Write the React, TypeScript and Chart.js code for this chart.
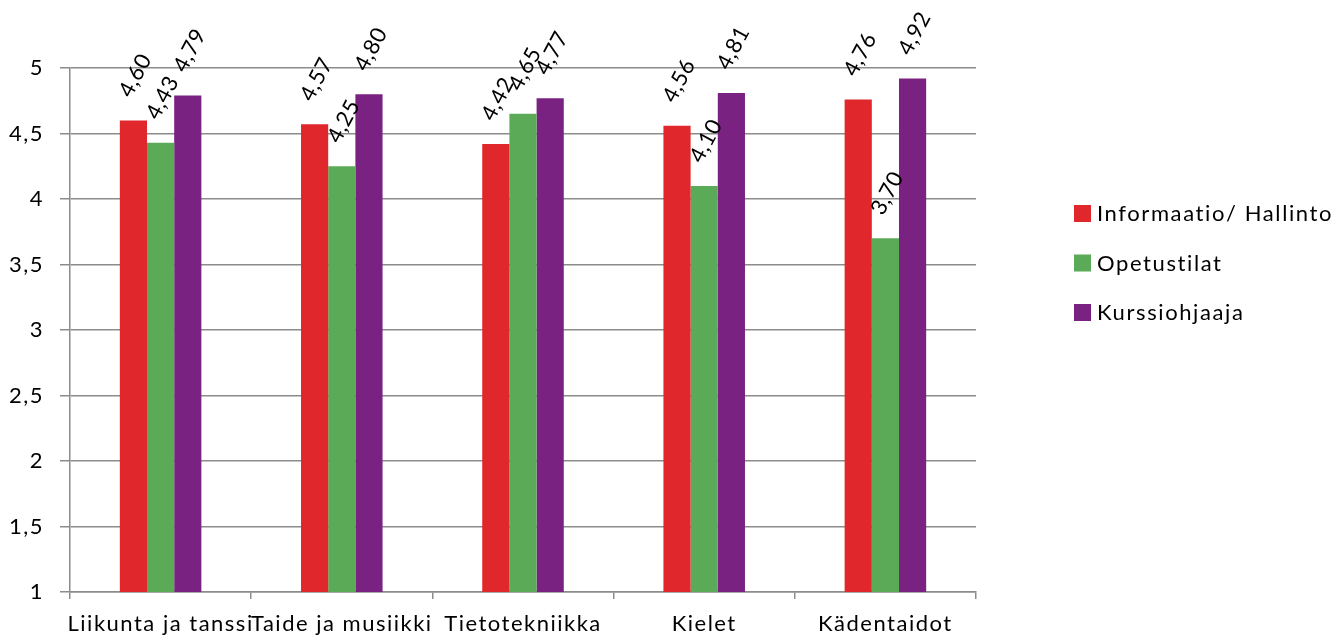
import React, { useEffect, useRef } from "react";
import { Chart, registerables } from "chart.js";

Chart.register(...registerables);

const categories = ["Liikunta ja tanssi", "Taide ja musiikki", "Tietotekniikka", "Kielet", "Kädentaidot"];
const seriesNames = ["Informaatio/ Hallinto", "Opetustilat", "Kurssiohjaaja"];
const informaatio = [4.6, 4.57, 4.42, 4.56, 4.76];
const opetustilat = [4.43, 4.25, 4.65, 4.1, 3.7];
const kurssiohjaaja = [4.79, 4.8, 4.77, 4.81, 4.92];
const seriesColors = ["#E0272C", "#5BAA57", "#7A2282"];

const FONT = "Lato";
const fmt = (v: number, d: number) => v.toFixed(d).replace(".", ",");

const spacingPlugin = {
  id: "spacing",
  beforeDraw(chart: any) {
    chart.ctx.letterSpacing = "1.5px";
  },
};

const labelPlugin = {
  id: "rotLabels",
  afterDatasetsDraw(chart: any) {
    const ctx = chart.ctx;
    chart.data.datasets.forEach((ds: any, i: number) => {
      const meta = chart.getDatasetMeta(i);
      meta.data.forEach((el: any, j: number) => {
        ctx.save();
        ctx.letterSpacing = "0.5px";
        ctx.translate(el.x + 2, el.y - 45);
        ctx.rotate((-62 * Math.PI) / 180);
        ctx.font = `22px ${FONT}`;
        ctx.fillStyle = "#000";
        ctx.textAlign = "center";
        ctx.textBaseline = "middle";
        ctx.fillText(fmt(ds.data[j], 2), 0, 0);
        ctx.restore();
      });
    });
  },
};

const legendPlugin = {
  id: "customLegend",
  afterDraw(chart: any) {
    const ctx = chart.ctx;
    ctx.save();
    ctx.letterSpacing = "1.6px";
    ctx.font = `22px ${FONT}`;
    ctx.textBaseline = "middle";
    ctx.textAlign = "left";
    seriesNames.forEach((name, i) => {
      const y = 213 + i * 49.5;
      ctx.fillStyle = seriesColors[i];
      ctx.fillRect(1074, y - 8, 17, 17);
      ctx.fillStyle = "#000";
      ctx.fillText(name, 1097, y + 1);
    });
    ctx.restore();
  },
};

export default function App() {
  const ref = useRef<HTMLCanvasElement>(null);
  useEffect(() => {
    if (!ref.current) return;
    const chart = new Chart(ref.current, {
      type: "bar",
      data: {
        labels: categories,
        datasets: [informaatio, opetustilat, kurssiohjaaja].map((d, i) => ({
          label: seriesNames[i],
          data: d,
          backgroundColor: seriesColors[i],
          borderWidth: 0,
          categoryPercentage: 0.45,
          barPercentage: 1,
        })),
      },
      options: {
        animation: false,
        responsive: false,
        maintainAspectRatio: false,
        layout: { padding: { top: 68, right: 360, left: 0, bottom: 0 } },
        plugins: { legend: { display: false }, tooltip: { enabled: false } },
        scales: {
          x: {
            afterFit: (s: any) => {
              s.height = 46;
            },
            grid: { drawOnChartArea: false, drawTicks: true, tickLength: 7, color: "#8c8c8c", lineWidth: 1.5 },
            border: { display: true, color: "#8c8c8c", width: 1.5 },
            ticks: { color: "#000", font: { family: FONT, size: 22 }, padding: 12, maxRotation: 0, autoSkip: false },
          },
          y: {
            min: 1,
            max: 5,
            afterFit: (s: any) => {
              s.width = 70;
            },
            grid: { color: "#8c8c8c", lineWidth: 1.5, tickLength: 10, drawTicks: true },
            border: { display: true, color: "#8c8c8c", width: 1.5 },
            ticks: {
              stepSize: 0.5,
              color: "#000",
              padding: 16,
              font: { family: FONT, size: 22 },
              callback: (v: any) => (Number.isInteger(v) ? String(v) : fmt(v, 1)),
            },
          },
        },
      },
      plugins: [spacingPlugin, labelPlugin, legendPlugin],
    });
    return () => chart.destroy();
  }, []);
  return (
    <div style={{ position: "fixed", left: 0, top: 0, width: 1336, height: 638, background: "#fff" }}>
      <canvas ref={ref} width={1336} height={638} style={{ width: 1336, height: 638 }} />
    </div>
  );
}
